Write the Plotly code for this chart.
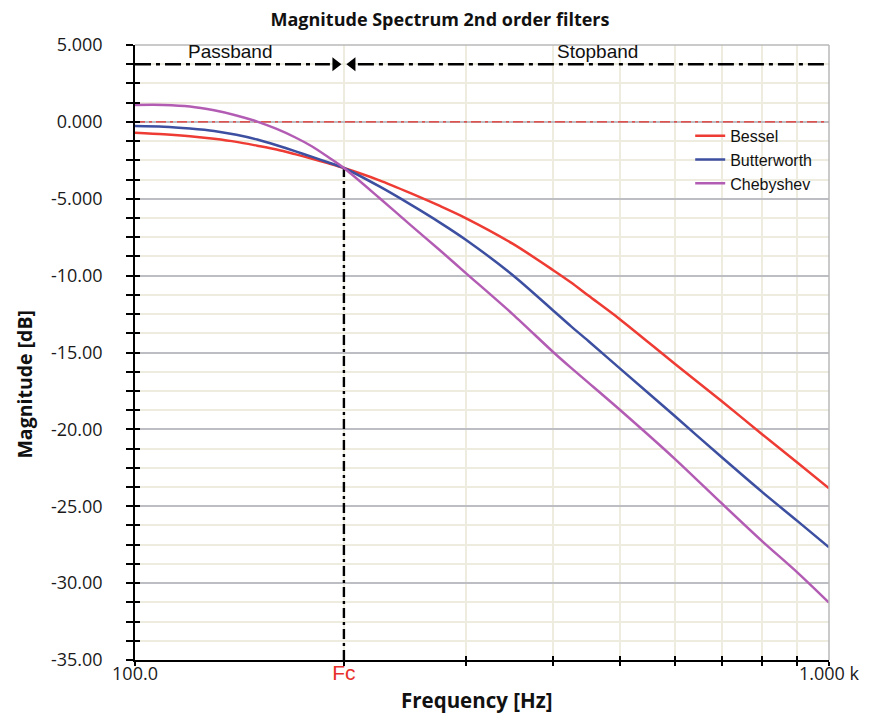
import plotly.graph_objects as go

# ---------------- data ----------------
FREQ_HZ = [100, 110, 120, 130, 140, 150, 160, 170, 180, 190, 200, 225, 250, 275,
           300, 350, 400, 425, 450, 500, 600, 700, 800, 900, 1000]

BESSEL_DB = [-0.70, -0.80, -0.93, -1.10, -1.30, -1.55, -1.80, -2.10, -2.40, -2.70,
             -3.00, -3.80, -4.65, -5.47, -6.27, -7.92, -9.63, -10.45, -11.30,
             -12.85, -15.75, -18.15, -20.30, -22.15, -23.83]

BUTTERWORTH_DB = [-0.27, -0.31, -0.43, -0.59, -0.84, -1.15, -1.52, -1.90, -2.28, -2.64,
                  -3.00, -4.20, -5.40, -6.55, -7.68, -9.96, -12.25, -13.30, -14.25,
                  -16.05, -19.15, -21.80, -24.05, -25.95, -27.67]

CHEBYSHEV_DB = [1.10, 1.10, 1.00, 0.75, 0.42, 0.02, -0.46, -1.00, -1.60, -2.30,
                -3.00, -4.95, -6.75, -8.35, -9.85, -12.50, -14.95, -16.00, -16.96,
                -18.74, -21.93, -24.80, -27.25, -29.30, -31.27]

SERIES_NAMES = ["Bessel", "Butterworth", "Chebyshev"]

FC_HZ = 200            # cut-off frequency
FC_DB = -3.0           # level where the curves cross at Fc
BAND_LEVEL_DB = 3.75   # height of the passband / stopband arrow line

Y_TICK_VALUES = [5, 0, -5, -10, -15, -20, -25, -30, -35]
Y_TICK_LABELS = ["5.000", "0.000", "-5.000", "-10.00", "-15.00", "-20.00",
                 "-25.00", "-30.00", "-35.00"]

X_TICK_VALUES = [100, 200, 300, 400, 500, 600, 700, 800, 900, 1000]
X_TICK_LABELS = ["100.0",
                 "<span style='color:#e8302a;font-family:Liberation Sans;font-size:21px'>Fc</span>",
                 "", "", "", "", "", "", "", "1.000 k"]

# ---------------- styles ----------------
COLORS = ["#ee3b33", "#3c4fa0", "#b35cb4"]
GRID_MINOR = "#eeebdf"
GRID_MAJOR = "#bdbdc4"
OPEN = "Open Sans, sans-serif"
ARIAL = "Liberation Sans, Arial, sans-serif"
TICK_FONT = dict(family=OPEN, size=18, color="#1a1a1a")
AXIS_TITLE_FONT = dict(family=OPEN, size=20.5, color="#111111")

# the page body adds an 8px margin, so the figure is 8px smaller to fit the window
PAGE_OFFSET = 8
PX_PER_DECADE = 694    # plot width in pixels for the single decade shown

fig = go.Figure()

# reference line at 0 dB
fig.add_trace(go.Scatter(x=[FREQ_HZ[0], FREQ_HZ[-1]], y=[0, 0], mode="lines",
                         line=dict(color="#e8302a", width=1.3, dash="10px,4px,3px,4px"),
                         showlegend=False, hoverinfo="skip"))

# Fc vertical marker line
fig.add_trace(go.Scatter(x=[FC_HZ, FC_HZ], y=[-35, FC_DB], mode="lines",
                         line=dict(color="black", width=2.4, dash="10px,4px,3px,4px"),
                         showlegend=False, hoverinfo="skip"))

# passband / stopband arrow lines (offsets expressed in pixels on the log axis)
def px_shift(px):
    return 10 ** (px / PX_PER_DECADE)

fig.add_trace(go.Scatter(x=[FREQ_HZ[0], FC_HZ / px_shift(14)], y=[BAND_LEVEL_DB] * 2,
                         mode="lines",
                         line=dict(color="black", width=2.6, dash="16px,5px,4px,5px"),
                         showlegend=False, hoverinfo="skip"))
fig.add_trace(go.Scatter(x=[FC_HZ * px_shift(14), FREQ_HZ[-1]], y=[BAND_LEVEL_DB] * 2,
                         mode="lines",
                         line=dict(color="black", width=2.6, dash="16px,5px,4px,5px"),
                         showlegend=False, hoverinfo="skip"))
fig.add_trace(go.Scatter(x=[FC_HZ / px_shift(8.5), FC_HZ * px_shift(8.5)],
                         y=[BAND_LEVEL_DB] * 2, mode="markers",
                         marker=dict(symbol=["triangle-right", "triangle-left"],
                                     size=12, color="black"),
                         showlegend=False, hoverinfo="skip"))

for name, vals, col in zip(SERIES_NAMES, [BESSEL_DB, BUTTERWORTH_DB, CHEBYSHEV_DB], COLORS):
    fig.add_trace(go.Scatter(x=FREQ_HZ, y=vals, mode="lines", name=name,
                             line=dict(color=col, width=2.5, shape="spline", smoothing=0.8)))

# overlay axes that carry the inner half of the tick marks
fig.add_trace(go.Scatter(x=[FREQ_HZ[0]], y=[0], xaxis="x2", yaxis="y2", mode="markers",
                         marker=dict(opacity=0), showlegend=False, hoverinfo="skip"))

W, H = 877 - PAGE_OFFSET, 718 - PAGE_OFFSET

fig.update_layout(
    width=W, height=H,
    margin=dict(l=135 - PAGE_OFFSET, r=48, t=45 - PAGE_OFFSET, b=58, autoexpand=False),
    paper_bgcolor="white", plot_bgcolor="white",
    title=dict(text="<b>Magnitude Spectrum 2nd order filters</b>",
               font=dict(family=OPEN, size=18, color="#111111"),
               x=(440 - PAGE_OFFSET) / W, xanchor="center",
               y=1 - (20 - PAGE_OFFSET) / H, yanchor="middle"),
    xaxis=dict(type="log", range=[2, 3], automargin=False,
               tickmode="array", tickvals=X_TICK_VALUES, ticktext=X_TICK_LABELS,
               ticks="outside", ticklen=4, tickwidth=1.5, tickcolor="black",
               showline=True, linecolor="black", linewidth=1.5,
               showgrid=True, gridcolor=GRID_MINOR, gridwidth=1.5,
               tickfont=TICK_FONT, ticklabelstandoff=-7,
               zeroline=False),
    yaxis=dict(range=[-35, 5], automargin=False,
               tickmode="array", tickvals=Y_TICK_VALUES, ticktext=Y_TICK_LABELS,
               ticks="outside", ticklen=7, tickwidth=1.5, tickcolor="black",
               showline=True, linecolor="black", linewidth=1.5,
               showgrid=True, gridcolor=GRID_MAJOR, gridwidth=1.5,
               minor=dict(dtick=1.25, tick0=-35, ticks="outside", ticklen=7,
                          tickwidth=1.5, tickcolor="black",
                          showgrid=True, gridcolor=GRID_MINOR, gridwidth=1.5),
               tickfont=TICK_FONT, ticklabelstandoff=20,
               zeroline=False),
    xaxis2=dict(type="log", range=[2, 3], overlaying="x", anchor="y", side="bottom",
                automargin=False,
                tickmode="array", tickvals=X_TICK_VALUES[1:-1],
                ticks="inside", ticklen=4, tickwidth=1.5, tickcolor="black",
                showticklabels=False, showgrid=False, showline=False, zeroline=False),
    yaxis2=dict(range=[-35, 5], overlaying="y", anchor="x", side="left",
                automargin=False,
                tickmode="linear", tick0=-35, dtick=1.25,
                ticks="inside", ticklen=5, tickwidth=1.5, tickcolor="black",
                showticklabels=False, showgrid=False, showline=False, zeroline=False),
    legend=dict(x=0.8, y=0.88, xanchor="left", yanchor="top",
                bgcolor="rgba(0,0,0,0)", font=dict(family=ARIAL, size=16, color="#111111"),
                itemwidth=30, tracegroupgap=0),
    shapes=[
        dict(type="line", xref="paper", yref="paper", x0=0, x1=1, y0=1, y1=1,
             line=dict(color="#b8b8b8", width=1.5)),
        dict(type="line", xref="paper", yref="paper", x0=1, x1=1, y0=0, y1=1,
             line=dict(color="#b8b8b8", width=1.5)),
    ],
    annotations=[
        dict(text="Passband", xref="paper", yref="paper", x=0.138, y=0.989,
             xanchor="center", yanchor="middle", showarrow=False,
             font=dict(family=ARIAL, size=19, color="#111111")),
        dict(text="Stopband", xref="paper", yref="paper", x=0.667, y=0.989,
             xanchor="center", yanchor="middle", showarrow=False,
             font=dict(family=ARIAL, size=19, color="#111111")),
        dict(text="<b>Frequency [Hz]</b>", xref="paper", yref="paper",
             x=0.493, y=-0.065, xanchor="center", yanchor="middle", showarrow=False,
             font=AXIS_TITLE_FONT),
        dict(text="<b>Magnitude [dB]</b>", xref="paper", yref="paper",
             x=-0.159, y=0.449, xanchor="center", yanchor="middle", showarrow=False,
             textangle=-90, font=dict(family=OPEN, size=19.5, color="#111111")),
    ],
    showlegend=True,
)

fig.write_html("out.html")
